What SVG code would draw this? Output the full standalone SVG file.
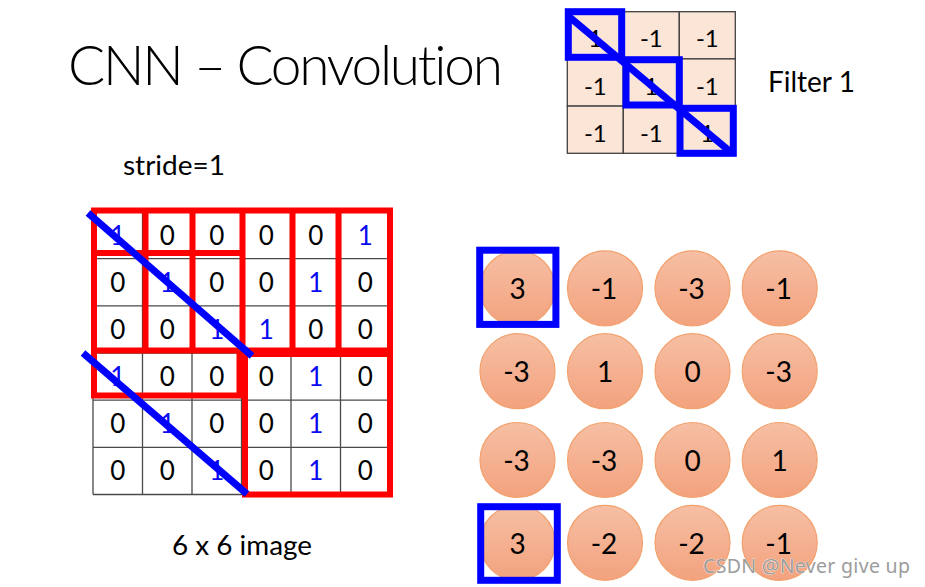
<svg xmlns="http://www.w3.org/2000/svg" width="925" height="587" viewBox="0 0 925 587">
<defs>
<linearGradient id="cg" x1="0" y1="0" x2="0" y2="1">
<stop offset="0" stop-color="#f6bfa4"/>
<stop offset="1" stop-color="#f3a27e"/>
</linearGradient>
<style>
text{font-variant-ligatures:none}
.t{font-family:Lato,"Open Sans","Liberation Sans",sans-serif;fill:#000}
.d{font-family:Lato,"Open Sans","Liberation Sans",sans-serif;font-size:26px;text-anchor:middle;fill:#000}
.b{fill:#0a0af0}
.f{font-family:Lato,"Open Sans","Liberation Sans",sans-serif;font-size:24px;text-anchor:middle;fill:#000}
.c{font-family:Lato,"Open Sans","Liberation Sans",sans-serif;font-size:28px;text-anchor:middle;fill:#000}
.grid{stroke:#4a4a4a;stroke-width:1.3;fill:none}
.red{stroke:#ff0000;stroke-width:6;fill:none;stroke-linecap:square}
.blue{stroke:#0000ff;stroke-width:7;fill:none}
.cell{fill:#fbe5d6;stroke:#404040;stroke-width:1.3}
.circ{fill:url(#cg);stroke:#f2a06c;stroke-width:1.2}
</style>
</defs>
<rect width="925" height="587" fill="#fff"/>

<g id="title">
<text class="t" x="68" y="85" font-size="55" font-weight="300" textLength="435">CNN – Convolution</text>
</g>
<g id="stride-label">
<text class="t" x="123" y="175" font-size="26" textLength="102" lengthAdjust="spacingAndGlyphs">stride=1</text>
</g>

<g id="filter">
<rect class="cell" x="567.3" y="11.7" width="56" height="47.2"/>
<rect class="cell" x="623.3" y="11.7" width="56" height="47.2"/>
<rect class="cell" x="679.3" y="11.7" width="56" height="47.2"/>
<rect class="cell" x="567.3" y="58.9" width="56" height="47.2"/>
<rect class="cell" x="623.3" y="58.9" width="56" height="47.2"/>
<rect class="cell" x="679.3" y="58.9" width="56" height="47.2"/>
<rect class="cell" x="567.3" y="106.1" width="56" height="47.2"/>
<rect class="cell" x="623.3" y="106.1" width="56" height="47.2"/>
<rect class="cell" x="679.3" y="106.1" width="56" height="47.2"/>
<text class="f" x="595.3" y="46.7">1</text>
<text class="f" x="651.3" y="46.7">-1</text>
<text class="f" x="707.3" y="46.7">-1</text>
<text class="f" x="595.3" y="95">-1</text>
<text class="f" x="651.3" y="95">1</text>
<text class="f" x="707.3" y="95">-1</text>
<text class="f" x="595.3" y="141.7">-1</text>
<text class="f" x="651.3" y="141.7">-1</text>
<text class="f" x="707.3" y="141.7">1</text>
<rect class="blue" x="568.3" y="11.7" width="53.4" height="45.6"/>
<rect class="blue" x="626" y="59.7" width="53.3" height="45.3"/>
<rect class="blue" x="680" y="108.3" width="53.3" height="45"/>
<line class="blue" x1="567" y1="15" x2="733" y2="154"/>
</g>
<g id="filter-label">
<text class="t" x="768" y="92" font-size="28">Filter 1</text>
</g>

<g id="image">
<path class="grid" d="M93 211.5H390M93 258.7H390M93 305.8H390M93 353H390M93 400.2H390M93 447.3H390M93 494.5H390M93 211.5V494.5M142.5 211.5V494.5M192 211.5V494.5M241.5 211.5V494.5M291 211.5V494.5M340.5 211.5V494.5M390 211.5V494.5"/>
<text class="d b" x="117.75" y="244.6">1</text>
<text class="d" x="167.25" y="244.6">0</text>
<text class="d" x="216.75" y="244.6">0</text>
<text class="d" x="266.25" y="244.6">0</text>
<text class="d" x="315.75" y="244.6">0</text>
<text class="d b" x="365.25" y="244.6">1</text>
<text class="d" x="117.75" y="291.8">0</text>
<text class="d b" x="167.25" y="291.8">1</text>
<text class="d" x="216.75" y="291.8">0</text>
<text class="d" x="266.25" y="291.8">0</text>
<text class="d b" x="315.75" y="291.8">1</text>
<text class="d" x="365.25" y="291.8">0</text>
<text class="d" x="117.75" y="338.9">0</text>
<text class="d" x="167.25" y="338.9">0</text>
<text class="d b" x="216.75" y="338.9">1</text>
<text class="d b" x="266.25" y="338.9">1</text>
<text class="d" x="315.75" y="338.9">0</text>
<text class="d" x="365.25" y="338.9">0</text>
<text class="d b" x="117.75" y="386.1">1</text>
<text class="d" x="167.25" y="386.1">0</text>
<text class="d" x="216.75" y="386.1">0</text>
<text class="d" x="266.25" y="386.1">0</text>
<text class="d b" x="315.75" y="386.1">1</text>
<text class="d" x="365.25" y="386.1">0</text>
<text class="d" x="117.75" y="433.3">0</text>
<text class="d b" x="167.25" y="433.3">1</text>
<text class="d" x="216.75" y="433.3">0</text>
<text class="d" x="266.25" y="433.3">0</text>
<text class="d b" x="315.75" y="433.3">1</text>
<text class="d" x="365.25" y="433.3">0</text>
<text class="d" x="117.75" y="480.4">0</text>
<text class="d" x="167.25" y="480.4">0</text>
<text class="d b" x="216.75" y="480.4">1</text>
<text class="d" x="266.25" y="480.4">0</text>
<text class="d b" x="315.75" y="480.4">1</text>
<text class="d" x="365.25" y="480.4">0</text>
<path class="red" d="M94 210.5H390M94 253H242.5M94 350.5H390M245 354H390M94 395.5H239.5M245 494.5H390M94 210.5V395.5M145.5 210.5V350.5M192.5 210.5V350.5M242.5 210.5V350.5M239.5 350.5V395.5M245 354V494.5M292.5 210.5V350.5M338.5 210.5V350.5M390 210.5V494.5"/>
<line class="blue" x1="88" y1="213" x2="252" y2="356"/>
<line class="blue" x1="83" y1="353" x2="247" y2="494"/>
</g>
<g id="image-label">
<text class="t" x="172" y="555" font-size="26" textLength="140" lengthAdjust="spacingAndGlyphs">6 x 6 image</text>
</g>

<g id="feature-map">
<circle class="circ" cx="517.5" cy="288.3" r="37.5"/>
<circle class="circ" cx="605" cy="288.3" r="37.5"/>
<circle class="circ" cx="692.5" cy="288.3" r="37.5"/>
<circle class="circ" cx="779.7" cy="288.3" r="37.5"/>
<circle class="circ" cx="517.5" cy="371.2" r="37.5"/>
<circle class="circ" cx="605" cy="371.2" r="37.5"/>
<circle class="circ" cx="692.5" cy="371.2" r="37.5"/>
<circle class="circ" cx="779.7" cy="371.2" r="37.5"/>
<circle class="circ" cx="517.5" cy="460" r="37.5"/>
<circle class="circ" cx="605" cy="460" r="37.5"/>
<circle class="circ" cx="692.5" cy="460" r="37.5"/>
<circle class="circ" cx="779.7" cy="460" r="37.5"/>
<circle class="circ" cx="517.5" cy="542.8" r="37.5"/>
<circle class="circ" cx="605" cy="542.8" r="37.5"/>
<circle class="circ" cx="692.5" cy="542.8" r="37.5"/>
<circle class="circ" cx="779.7" cy="542.8" r="37.5"/>
<text class="c" x="517.5" y="299.3">3</text>
<text class="c" x="604" y="299.3">-1</text>
<text class="c" x="691.5" y="299.3">-3</text>
<text class="c" x="778.7" y="299.3">-1</text>
<text class="c" x="516.5" y="382.2">-3</text>
<text class="c" x="605" y="382.2">1</text>
<text class="c" x="692.5" y="382.2">0</text>
<text class="c" x="778.7" y="382.2">-3</text>
<text class="c" x="516.5" y="471">-3</text>
<text class="c" x="604" y="471">-3</text>
<text class="c" x="692.5" y="471">0</text>
<text class="c" x="779.7" y="471">1</text>
<text class="c" x="517.5" y="554">3</text>
<text class="c" x="604" y="554">-2</text>
<text class="c" x="691.5" y="554">-2</text>
<text class="c" x="778.7" y="554">-1</text>
<rect class="blue" x="479.7" y="250.2" width="76.2" height="74.2"/>
<rect class="blue" x="480.7" y="506.7" width="76.6" height="73.6"/>
</g>

<g id="watermark">
<text x="703" y="573" font-family="'Noto Sans','Noto Sans CJK SC',sans-serif" font-size="19.5" fill="#9c9c9c" stroke="#ffffff" stroke-width="0.6" paint-order="stroke" textLength="207">CSDN @Never  give  up</text>
</g>
</svg>
